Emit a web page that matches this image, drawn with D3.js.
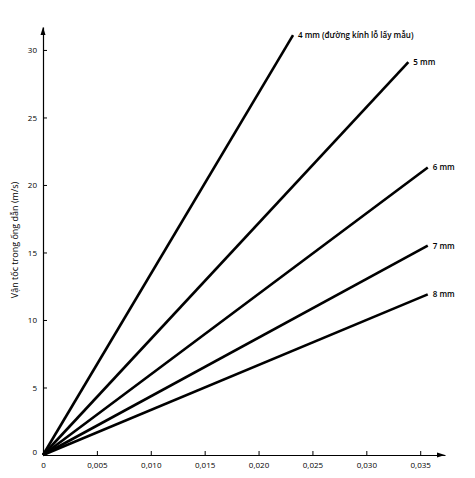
<!DOCTYPE html>
<html><head><meta charset="utf-8">
<script src="https://cdn.jsdelivr.net/npm/d3@7"></script>
<style>body{margin:0;background:#fff}text{font-family:"Open Sans",sans-serif}</style>
</head><body>
<svg id="c" width="475" height="478"></svg>
<script>
// line endpoints (flow rate, velocity)
var labels = ["4 mm (đường kính lỗ lấy mẫu)", "5 mm", "6 mm", "7 mm", "8 mm"];
var endX = [0.0232, 0.0339, 0.0357, 0.0357, 0.0357];
var endY = [31.1, 29.1, 21.3, 15.5, 11.9];
var xTicks = [0, 0.005, 0.010, 0.015, 0.020, 0.025, 0.030, 0.035];
var yTicks = [0, 5, 10, 15, 20, 25, 30];

var svg = d3.select("#c");
var x = d3.scaleLinear().domain([0, 0.0373]).range([43, 445]);
var y = d3.scaleLinear().domain([0, 31.7]).range([455, 27]);
var fmt = function (d) { return d === 0 ? "0" : d3.format(".3f")(d).replace(".", ","); };

var gx = svg.append("g").attr("transform", "translate(0,455)")
  .call(d3.axisBottom(x).tickValues(xTicks).tickFormat(fmt).tickSize(-4).tickSizeOuter(0));
gx.selectAll("text").attr("dy", "1.2em").style("font-size", "8px");
var gy = svg.append("g").attr("transform", "translate(43,0)")
  .call(d3.axisLeft(y).tickValues(yTicks).tickSize(-4).tickSizeOuter(0));
gy.selectAll("text").attr("x", -6).style("font-size", "8px");
svg.selectAll(".domain").attr("stroke", "#000").attr("stroke-width", 1.2);
gy.select(".tick text").attr("dy", "0").attr("y", -1);

// arrows
svg.append("path").attr("d", "M445,455 l-8,-2.5 v5 z");
svg.append("path").attr("d", "M43,27 l-2.5,8 h5 z");

svg.append("text").attr("transform", "translate(18,240) rotate(-90)")
  .attr("text-anchor", "middle").style("font-size", "9px").text("Vận tốc trong ống dẫn (m/s)");

labels.forEach(function (l, i) {
  svg.append("line").attr("x1", x(0)).attr("y1", y(0)).attr("x2", x(endX[i])).attr("y2", y(endY[i]))
    .attr("stroke", "#000").attr("stroke-width", 2.6);
  svg.append("text").attr("x", x(endX[i]) + 5).attr("y", y(endY[i]) + 3)
    .style("font-size", "8px").style("font-weight", "600").text(l);
});
</script>
</body></html>
